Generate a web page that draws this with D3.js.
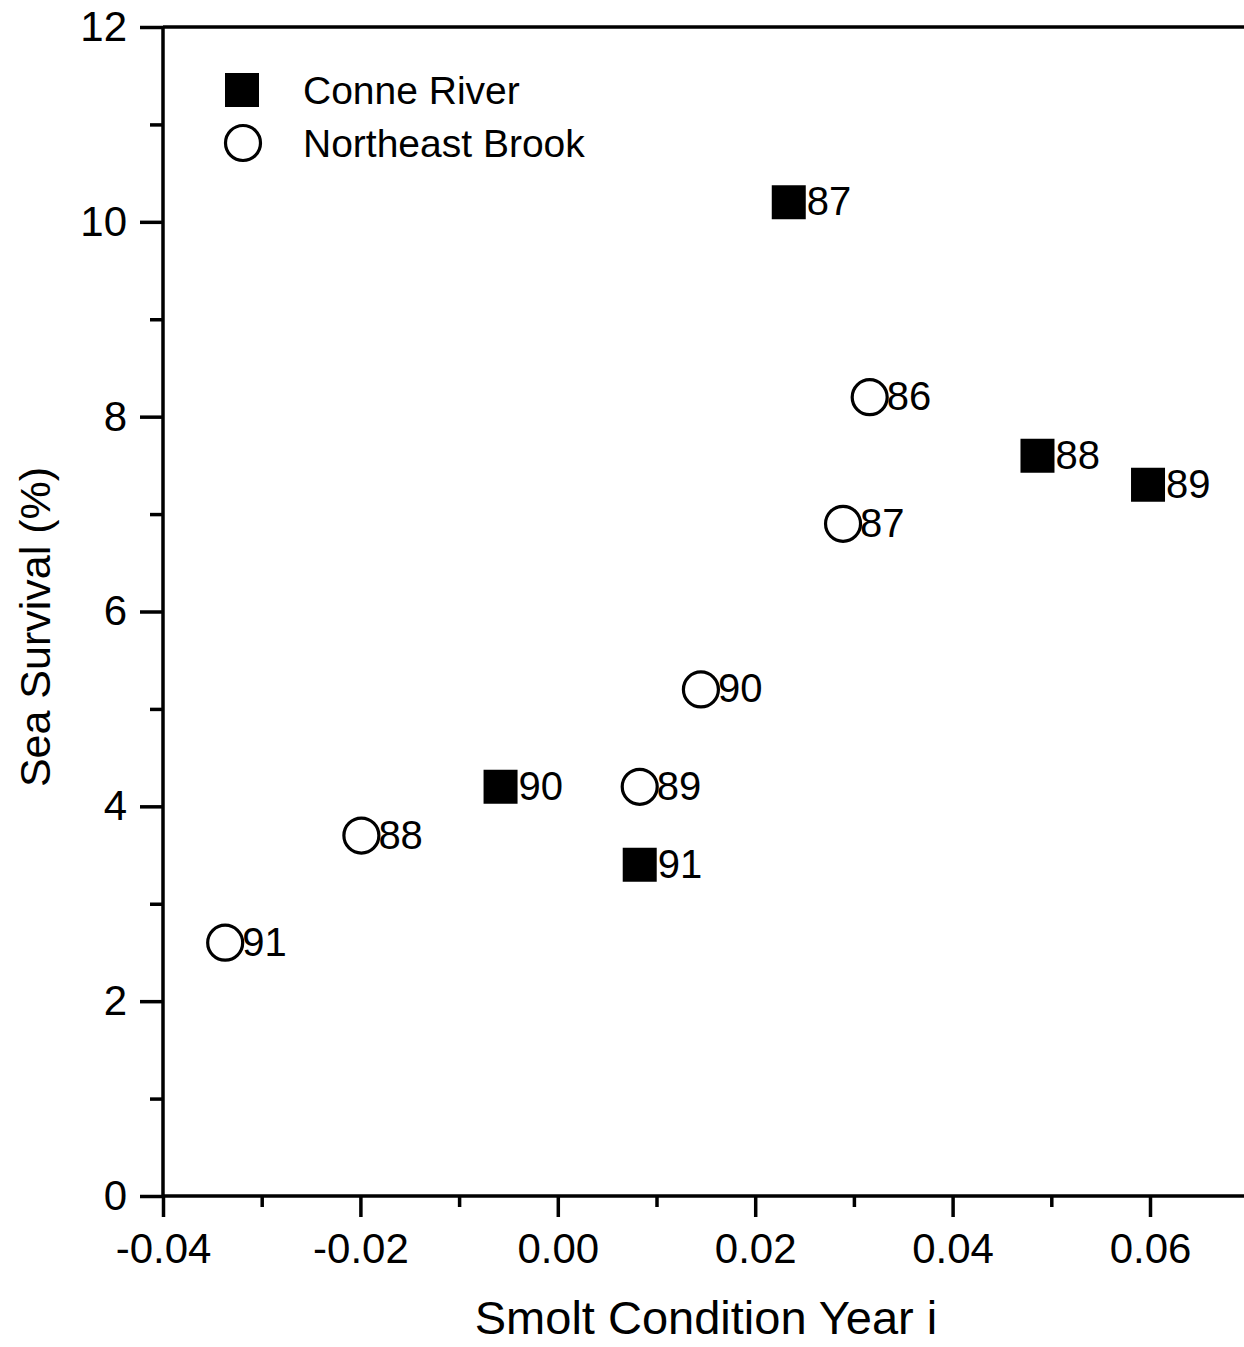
<!DOCTYPE html>
<html>
<head>
<meta charset="utf-8">
<script src="https://cdn.jsdelivr.net/npm/d3@7"></script>
<style>
  html, body { margin: 0; padding: 0; background: #fff; }
  svg { display: block; }
  text { font-family: "Liberation Sans", Arial, sans-serif; fill: #000; }
</style>
</head>
<body>
<svg id="chart" width="1244" height="1347"></svg>
<script>
// ---- Data ----
const conneYears = ["87", "88", "89", "90", "91"];
const conneX = [0.0234, 0.0486, 0.0598, -0.0058, 0.0083];
const conneY = [10.2, 7.6, 7.3, 4.2, 3.4];

const nebYears = ["86", "87", "88", "89", "90", "91"];
const nebX = [0.0316, 0.0289, -0.0199, 0.0083, 0.0145, -0.0337];
const nebY = [8.2, 6.9, 3.7, 4.2, 5.2, 2.6];

const xMajorTicks = [-0.04, -0.02, 0.00, 0.02, 0.04, 0.06];
const xMinorTicks = [-0.03, -0.01, 0.01, 0.03, 0.05, 0.07];
const yMajorTicks = [0, 2, 4, 6, 8, 10, 12];
const yMinorTicks = [1, 3, 5, 7, 9, 11];

const seriesNames = ["Conne River", "Northeast Brook"];
const xTitle = "Smolt Condition Year i";
const yTitle = "Sea Survival (%)";

// ---- Layout ----
const svg = d3.select("#chart");
const x = d3.scaleLinear().domain([-0.04, 0.07]).range([163, 1248.7]);
const y = d3.scaleLinear().domain([0, 12]).range([1196, 27]);

const axisStroke = 3.5;

// X axis
const xMajor = d3.axisBottom(x).tickValues(xMajorTicks).tickSize(21).tickPadding(16);
const xMinor = d3.axisBottom(x).tickValues(xMinorTicks).tickSize(11).tickFormat("");
const gx = svg.append("g").attr("transform", `translate(0,${y(0)})`).call(xMajor);
const gxm = svg.append("g").attr("transform", `translate(0,${y(0)})`).call(xMinor);
gx.selectAll("text").attr("font-size", 42).attr("font-family", "Liberation Sans, Arial, sans-serif")
  .text(d => (d < 0 ? "-" : "") + Math.abs(d).toFixed(2));

// Y axis
const yMajor = d3.axisLeft(y).tickValues(yMajorTicks).tickSize(23).tickPadding(13)
  .tickFormat(d3.format("d"));
const yMinor = d3.axisLeft(y).tickValues(yMinorTicks).tickSize(13).tickFormat("");
const gy = svg.append("g").attr("transform", `translate(${x(-0.04)},0)`).call(yMajor);
const gym = svg.append("g").attr("transform", `translate(${x(-0.04)},0)`).call(yMinor);
gy.selectAll("text").attr("font-size", 42).attr("font-family", "Liberation Sans, Arial, sans-serif");

[gx, gxm, gy, gym].forEach(g => {
  g.select(".domain").remove();
  g.selectAll("line").attr("stroke", "#000").attr("stroke-width", axisStroke);
});
// axis lines
svg.append("line").attr("x1", x(-0.04)).attr("x2", x(0.07)).attr("y1", y(0)).attr("y2", y(0))
  .attr("stroke", "#000").attr("stroke-width", axisStroke);
svg.append("line").attr("x1", x(-0.04)).attr("x2", x(-0.04)).attr("y1", y(0)).attr("y2", y(12))
  .attr("stroke", "#000").attr("stroke-width", axisStroke);
// top frame line
svg.append("line").attr("x1", x(-0.04)).attr("x2", x(0.07)).attr("y1", y(12)).attr("y2", y(12))
  .attr("stroke", "#000").attr("stroke-width", axisStroke);

// Titles
svg.append("text").attr("x", 706).attr("y", 1334).attr("text-anchor", "middle")
  .attr("font-size", 47).text(xTitle);
svg.append("text").attr("transform", `translate(50,627) rotate(-90)`).attr("text-anchor", "middle")
  .attr("font-size", 43).text(yTitle);

// Data marks
const conne = conneX.map((v, i) => ({ x: v, y: conneY[i], label: conneYears[i] }));
const neb = nebX.map((v, i) => ({ x: v, y: nebY[i], label: nebYears[i] }));

const sq = d3.symbol().type(d3.symbolSquare).size(34 * 34);
const ci = d3.symbol().type(d3.symbolCircle).size(Math.PI * 17.5 * 17.5);

const gN = svg.append("g");
gN.selectAll("path").data(neb).join("path")
  .attr("d", ci).attr("transform", d => `translate(${x(d.x)},${y(d.y)})`)
  .attr("fill", "none").attr("stroke", "#000").attr("stroke-width", 3.2);
gN.selectAll("text").data(neb).join("text")
  .attr("x", d => x(d.x) + 17).attr("y", d => y(d.y) + 13)
  .attr("font-size", 40).text(d => d.label);

const gC = svg.append("g");
gC.selectAll("path").data(conne).join("path")
  .attr("d", sq).attr("transform", d => `translate(${x(d.x)},${y(d.y)})`)
  .attr("fill", "#000");
gC.selectAll("text").data(conne).join("text")
  .attr("x", d => x(d.x) + 18).attr("y", d => y(d.y) + 13)
  .attr("font-size", 40).text(d => d.label);

// Legend
const leg = svg.append("g");
leg.append("path").attr("d", sq).attr("transform", "translate(242,90)").attr("fill", "#000");
leg.append("path").attr("d", ci).attr("transform", "translate(243,143)")
  .attr("fill", "none").attr("stroke", "#000").attr("stroke-width", 3.2);
leg.append("text").attr("x", 303).attr("y", 104).attr("font-size", 39).text(seriesNames[0]);
leg.append("text").attr("x", 303).attr("y", 157).attr("font-size", 39).text(seriesNames[1]);
</script>
</body>
</html>
